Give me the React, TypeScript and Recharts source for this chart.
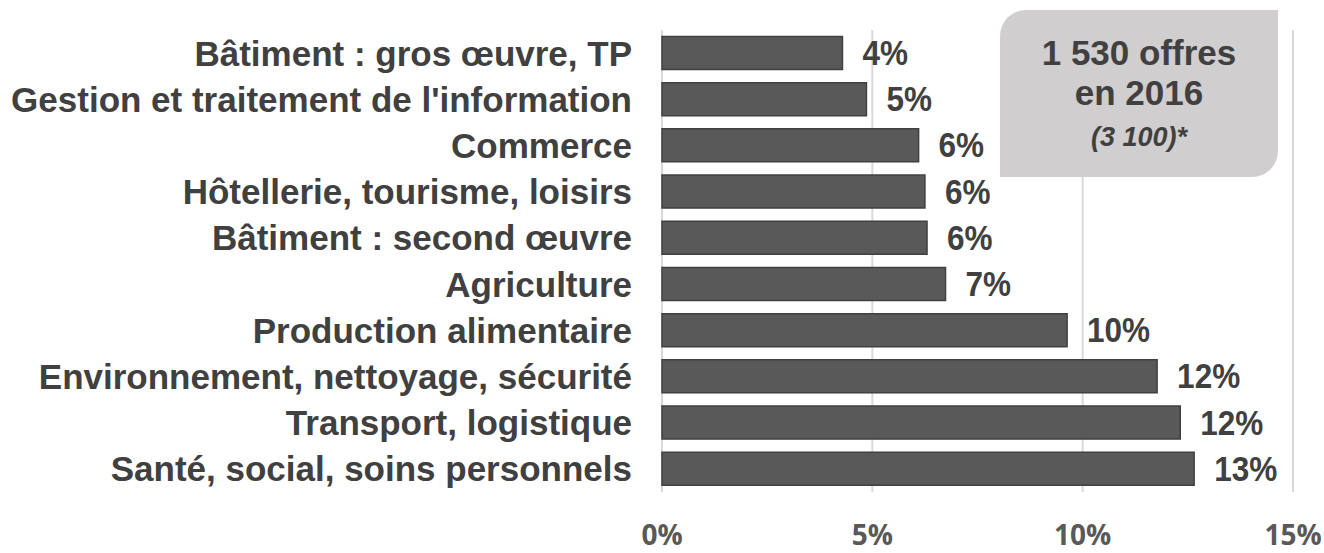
import React from "react";
import {
  BarChart,
  Bar,
  XAxis,
  YAxis,
  CartesianGrid,
  LabelList,
} from "recharts";

// secteurs, du haut vers le bas
const categories = [
  "Bâtiment : gros œuvre, TP",
  "Gestion et traitement de l'information",
  "Commerce",
  "Hôtellerie, tourisme, loisirs",
  "Bâtiment : second œuvre",
  "Agriculture",
  "Production alimentaire",
  "Environnement, nettoyage, sécurité",
  "Transport, logistique",
  "Santé, social, soins personnels",
];

// part des offres (%)
const shares = [4.29, 4.86, 6.1, 6.25, 6.3, 6.74, 9.63, 11.77, 12.32, 12.65];

const xTicks = [0, 5, 10, 15];

const boxLines = ["1 530 offres", "en 2016"];
const boxNote = "(3 100)*";

const data = categories.map((name, i) => ({ name, value: shares[i] }));

const labelFont = "'Liberation Sans', Arial, sans-serif";
const tickFont = "'Open Sans', 'Noto Sans', sans-serif";

// étiquette de valeur, un peu condensée comme dans l'original
const ValueLabel = (props: any) => {
  const { x, y, width, height, value } = props;
  const tx = Number(x) + Number(width) + 20;
  const ty = Number(y) + Number(height) / 2;
  return (
    <text
      x={0}
      y={0}
      transform={`translate(${tx},${ty}) scale(0.9,1)`}
      dominantBaseline="central"
      fill="#404040"
      fontSize={35}
      fontWeight={700}
      fontFamily={labelFont}
    >
      {`${Math.round(Number(value))}%`}
    </text>
  );
};

const App = (): React.ReactElement => {
  return (
    <div style={{ position: "relative", width: 1324, height: 553, background: "#fff" }}>
      <style>{`body{margin:0}`}</style>
      <BarChart
        width={1324}
        height={553}
        data={data}
        layout="vertical"
        margin={{ top: 30, right: 31, bottom: 0, left: 0 }}
        barCategoryGap="14%"
      >
        <CartesianGrid horizontal={false} stroke="#d9d9d9" strokeWidth={2} />
        <XAxis
          type="number"
          domain={[0, 15]}
          ticks={xTicks}
          tickFormatter={(v: number) => `${v}%`}
          axisLine={false}
          tickLine={false}
          tickSize={0}
          tickMargin={33}
          height={61}
          tick={{ fill: "#595959", fontSize: 28, fontWeight: 700, fontFamily: tickFont }}
        />
        <YAxis
          type="category"
          dataKey="name"
          width={662}
          axisLine={false}
          tickLine={false}
          tickSize={0}
          tickMargin={30}
          interval={0}
          tick={{ fill: "#404040", fontSize: 35, fontWeight: 700, fontFamily: labelFont }}
        />
        <Bar
          dataKey="value"
          fill="#595959"
          stroke="#404040"
          strokeWidth={1.5}
          isAnimationActive={false}
        >
          <LabelList dataKey="value" content={<ValueLabel />} />
        </Bar>
      </BarChart>
      <div
        style={{
          position: "absolute",
          left: 1000,
          top: 10,
          width: 278,
          height: 167,
          background: "#d0cece",
          borderRadius: "26px 0 26px 0",
          color: "#404040",
          fontFamily: labelFont,
          fontWeight: 700,
          textAlign: "center",
        }}
      >
        <div style={{ fontSize: 35, lineHeight: "40px", marginTop: 23 }}>{boxLines[0]}</div>
        <div style={{ fontSize: 35, lineHeight: "40px" }}>{boxLines[1]}</div>
        <div style={{ fontSize: 27, lineHeight: "48px", fontStyle: "italic" }}>{boxNote}</div>
      </div>
    </div>
  );
};

export default App;
